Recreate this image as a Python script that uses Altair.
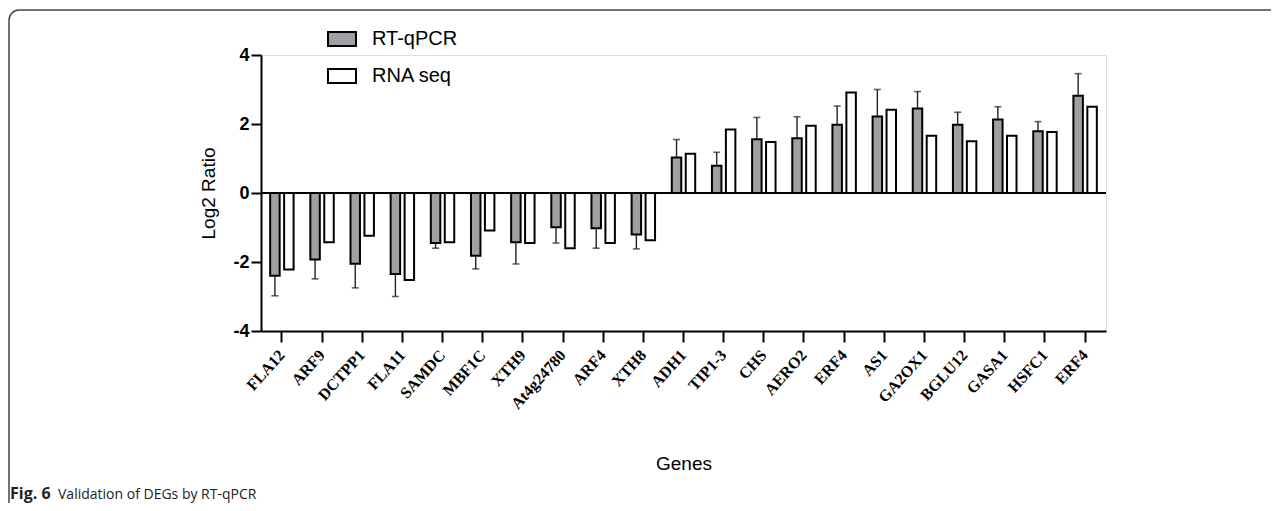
import json
import altair as alt
import pandas as pd

genes = ["FLA12", "ARF9", "DCTPP1", "FLA11", "SAMDC", "MBF1C", "XTH9", "At4g24780",
         "ARF4", "XTH8", "ADH1", "TIP1-3", "CHS", "AERO2", "ERF4", "AS1", "GA2OX1",
         "BGLU12", "GASA1", "HSFC1", "ERF4"]
rtqpcr = [-2.40, -1.93, -2.05, -2.35, -1.45, -1.82, -1.43, -0.99, -1.02, -1.20,
          1.03, 0.79, 1.56, 1.59, 1.98, 2.22, 2.45, 1.98, 2.13, 1.79, 2.82]
rtqpcr_sd = [0.58, 0.56, 0.70, 0.65, 0.15, 0.38, 0.63, 0.46, 0.58, 0.42,
             0.52, 0.39, 0.63, 0.62, 0.54, 0.78, 0.49, 0.36, 0.37, 0.28, 0.64]
rnaseq = [-2.22, -1.43, -1.24, -2.52, -1.43, -1.09, -1.45, -1.60, -1.45, -1.37,
          1.14, 1.84, 1.48, 1.95, 2.91, 2.41, 1.66, 1.50, 1.66, 1.77, 2.50]
series = ["RT-qPCR", "RNA seq"]
caption_bold = "Fig. 6"
caption_text = "Validation of DEGs by RT-qPCR"

rows = []
for i, g in enumerate(genes):
    v = rtqpcr[i]
    sd = rtqpcr_sd[i]
    rows.append(dict(idx=i, gene=g, series=series[0], value=v,
                     end=v + (sd if v >= 0 else -sd)))
    rows.append(dict(idx=i, gene=g, series=series[1], value=rnaseq[i], end=None))
df = pd.DataFrame(rows)
dfq = df[df.series == series[0]]

label_expr = json.dumps(genes) + "[datum.value]"

x_enc = alt.X("idx:O", scale=alt.Scale(paddingInner=0, paddingOuter=0.02),
              axis=alt.Axis(labelExpr=label_expr, labelAngle=-48, labelAlign="right",
                            labelBaseline="middle", labelFont="Liberation Serif",
                            labelFontWeight="bold", labelFontSize=16, labelColor="black",
                            labelPadding=10, tickSize=11, tickWidth=2, tickColor="black",
                            domainWidth=2, domainColor="black", grid=False,
                            title="Genes", titleFont="Liberation Sans", titleFontSize=19,
                            titleFontWeight="normal", titleColor="black",
                            titleY=132, titleBaseline="middle"))
xo_enc = alt.XOffset("series:N", scale=alt.Scale(domain=series, paddingInner=0.32,
                                                 paddingOuter=0.6))
y_scale = alt.Scale(domain=[-4, 4], nice=False, zero=False)
y_axis = alt.Axis(values=[-4, -2, 0, 2, 4],
                  labelExpr="datum.value < 0 ? '-' + abs(datum.value) : '' + datum.value",
                  labelFont="Liberation Sans",
                  labelFontWeight="bold", labelFontSize=18, labelColor="black",
                  labelPadding=2, tickSize=10, tickWidth=2, tickColor="black",
                  domainWidth=2, domainColor="black", grid=False,
                  title="Log2 Ratio", titleFont="Liberation Sans", titleFontSize=19,
                  titleFontWeight="normal", titleColor="black",
                  titleX=-53, titleY=138, titleAngle=270, titleBaseline="middle",
                  titleAlign="center")

frame = alt.Chart(pd.DataFrame({"a": [0]})).mark_rect(
    filled=False, stroke="#444444", strokeWidth=1.5, cornerRadius=10
).encode(x=alt.value(-252), x2=alt.value(3000), y=alt.value(-45), y2=alt.value(3000))

bars = alt.Chart(df).mark_bar(stroke="black", strokeWidth=2).encode(
    x=x_enc,
    xOffset=xo_enc,
    y=alt.Y("value:Q", scale=y_scale, axis=y_axis),
    color=alt.Color("series:N", scale=alt.Scale(domain=series, range=["#a0a0a4", "#ffffff"]),
                    legend=alt.Legend(orient="none", legendX=66, legendY=-31, title=None,
                                      symbolType="M-1,-0.5H1V0.5H-1Z", symbolSize=784,
                                      symbolStrokeColor="black", symbolStrokeWidth=2,
                                      labelFont="Liberation Sans", labelFontSize=20,
                                      labelColor="black", labelOffset=15, rowPadding=11,
                                      padding=0)),
)

zero = alt.Chart(pd.DataFrame({"z": [0]})).mark_rule(color="black", strokeWidth=2).encode(
    y=alt.Y("z:Q", scale=y_scale))

err = alt.Chart(dfq).mark_rule(color="#222222", strokeWidth=1.4).encode(
    x=alt.X("idx:O"), xOffset=alt.XOffset("series:N"),
    y=alt.Y("value:Q", scale=y_scale), y2="end:Q")

caps = alt.Chart(dfq).mark_tick(color="#222222", size=7, thickness=1.6,
                                orient="horizontal").encode(
    x=alt.X("idx:O"), xOffset=alt.XOffset("series:N"),
    y=alt.Y("end:Q", scale=y_scale))

cap1 = alt.Chart(pd.DataFrame({"a": [0]})).mark_text(
    align="left", baseline="alphabetic", font="Open Sans",
    fontSize=16, fontWeight="bold", color="#222222"
).encode(x=alt.value(-251), y=alt.value(444), text=alt.value(caption_bold))

cap2 = alt.Chart(pd.DataFrame({"a": [0]})).mark_text(
    align="left", baseline="alphabetic", font="Open Sans",
    fontSize=14, color="#222222"
).encode(x=alt.value(-203), y=alt.value(444), text=alt.value(caption_text))

chart = alt.layer(frame, bars, zero, err, caps, cap1, cap2).properties(
    width=845, height=276,
    padding={"left": 253, "top": 47, "right": 165, "bottom": 172},
    autosize=alt.AutoSizeParams(type="none"),
).configure_view(strokeWidth=0).configure(background="white")

chart.save("out.html", embed_options={"renderer": "svg", "actions": False})
